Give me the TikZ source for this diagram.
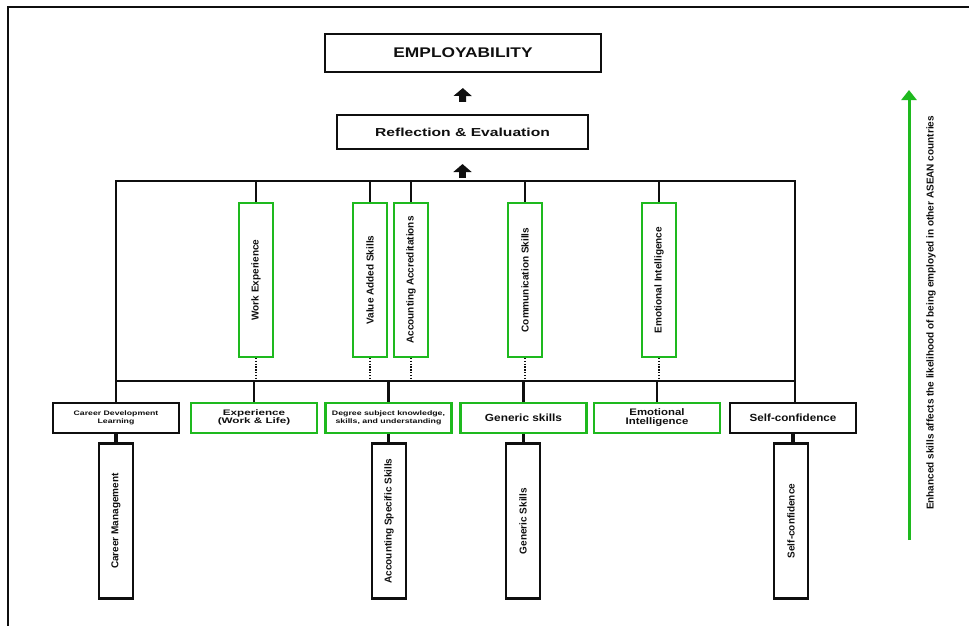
\documentclass[tikz,border=0pt]{standalone}
\usepackage{fontspec}
\setmainfont{Liberation Sans}
\usetikzlibrary{arrows.meta,calc}
\definecolor{grn}{RGB}{30,185,30}
\definecolor{ink}{RGB}{15,15,15}
\newcommand\hs[2]{\scalebox{#1}[1]{#2}}
\newcommand\fsz[2]{\fontsize{#1}{#2}\selectfont\bfseries}
\newcommand\twol[2]{\begin{tabular}{@{}c@{}}#1\\#2\end{tabular}}
\begin{document}
\begin{tikzpicture}[x=1pt,y=-1pt,
  bx/.style={draw=ink, line width=2.1pt, inner sep=0pt, align=center, text=ink, line join=miter},
  gbx/.style={bx, draw=grn},
  vbx/.style={minimum width=34pt, minimum height=154pt},
  mbx/.style={minimum width=126pt, minimum height=30pt},
  ln/.style={draw=ink, line width=2.4pt},
  dt/.style={draw=ink, line width=2.6pt, dash pattern=on 1.4pt off 1.4pt},
  tk/.style={draw=ink, line width=3.8pt},
  barrow/.style={draw=ink, line width=7pt, -{Triangle[length=8pt,width=18pt]}},
  garrow/.style={draw=grn, line width=3pt, -{Triangle[length=10pt,width=15pt]}}
]
\useasboundingbox (0,0) rectangle (969,626);
% frame
\coordinate (f1) at (969,7);
\coordinate (f2) at (8,7);
\coordinate (f3) at (8,626);
\draw[ink, line width=1.4pt] (f1) -- (f2) -- (f3);

% top boxes
\node[bx, minimum width=276pt, minimum height=38pt] (emp) at (463,53) {\hs{1.24}{\fsz{14}{14}EMPLOYABILITY}};
\node[bx, minimum width=251pt, minimum height=34pt] (refl) at (462.5,132) {\hs{1.35}{\fsz{11.6}{12}Reflection \& Evaluation}};

% bus coordinates
\coordinate (tl) at (116,181);
\coordinate (tr) at (795,181);
\coordinate (bl) at (116,381);
\coordinate (br) at (795,381);
\coordinate (bm) at (462.5,181);

% block arrows
\draw[barrow, shorten <=12pt, shorten >=15pt] (refl.north) -- (emp.south);
\draw[barrow, shorten <=3pt, shorten >=14pt] (bm) -- (refl.south);

% upper vertical green boxes
\node[gbx, vbx] (we)  at (256,280) {\rotatebox{90}{\fsz{10}{12}Work Experience}};
\node[gbx, vbx] (vas) at (370,280) {\rotatebox{90}{\fsz{10}{12}Value Added Skills}};
\node[gbx, vbx] (aa)  at (411,280) {\rotatebox{90}{\fsz{10}{12}Accounting Accreditations}};
\node[gbx, vbx] (cs)  at (525,280) {\rotatebox{90}{\fsz{10}{12}Communication Skills}};
\node[gbx, vbx] (ei)  at (659,280) {\rotatebox{90}{\fsz{10}{12}Emotional Intelligence}};

% middle row
\node[bx, mbx]  (cdl) at (116,418)   {\hs{1.34}{\fsz{6.5}{7.6}\twol{Career Development}{Learning}}};
\node[gbx, mbx] (exp) at (254,418)   {\hs{1.46}{\fsz{8}{8}\twol{Experience}{(Work \& Life)}}};
\node[gbx, mbx] (deg) at (388.5,418) {\hs{1.35}{\fsz{6.5}{7.6}\twol{Degree subject knowledge,}{skills, and understanding}}};
\node[gbx, mbx] (gen) at (523.5,418) {\hs{1.14}{\fsz{10.4}{11}Generic skills}};
\node[gbx, mbx] (emo) at (657,418)   {\hs{1.2}{\fsz{9.5}{7.8}\twol{Emotional}{Intelligence}}};
\node[bx, mbx]  (sc)  at (793,418)   {\hs{1.12}{\fsz{10.4}{11}Self-confidence}};

% lower vertical boxes
\node[bx, vbx, minimum height=155pt] (cm)  at (116,521) {\rotatebox{90}{\fsz{10}{12}Career Management}};
\node[bx, vbx, minimum height=155pt] (ass) at (389,521) {\rotatebox{90}{\fsz{10}{12}Accounting Specific Skills}};
\node[bx, vbx, minimum height=155pt] (gs)  at (523,521) {\rotatebox{90}{\fsz{10}{12}Generic Skills}};
\node[bx, vbx, minimum height=155pt] (scb) at (791,521) {\rotatebox{90}{\fsz{10}{12}Self-confidence}};

% buses
\draw[ln] (cdl.north) -- (tl) -- (tr) -- (tr |- sc.north);
\draw[ln] (bl) -- (br);

% upper connectors
\foreach \n in {we,vas,aa,cs,ei}{
  \draw[ln] (\n.north) -- (\n.north |- tl);
  \draw[dt] (\n.south) -- (\n.south |- bl);
}
% lower connectors
\foreach \n in {exp,deg,gen,emo}{
  \draw[ln] (\n.north) -- (\n.north |- bl);
}
% thick stubs
\draw[tk] (cdl.south) -- (cm.north);
\draw[tk] (deg.south) -- (deg.south |- ass.north);
\draw[tk] (gen.south) -- (gen.south |- gs.north);
\draw[tk] (sc.south) -- (sc.south |- scb.north);

% green arrow and text
\coordinate (ga) at (909,540);
\coordinate (gb) at (909,90);
\draw[garrow] (ga) -- (gb);
\node[rotate=90, inner sep=0pt, text=ink, font={\fsz{10}{12}}] (gt) at (931,313) {Enhanced skills affects the likelihood of being employed in other ASEAN countries};
\end{tikzpicture}
\end{document}
